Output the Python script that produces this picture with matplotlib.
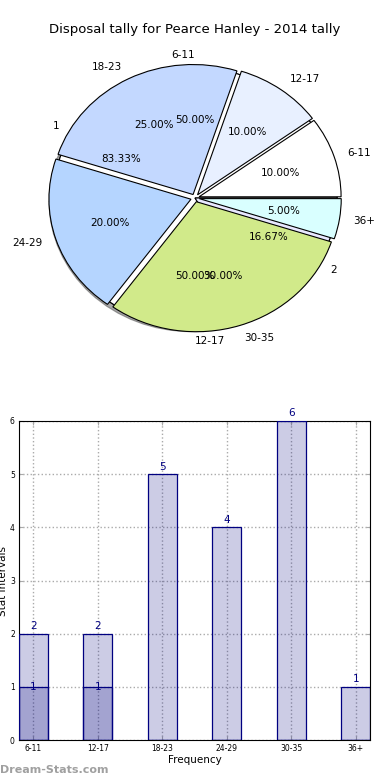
import numpy as np
import matplotlib
matplotlib.use('Agg')
import matplotlib.pyplot as plt

# data
age_groups = ['6-11', '12-17', '18-23', '24-29', '30-35', '36+']
age_share = [10, 10, 25, 20, 30, 5]
age_colors = ['#ffffff', '#e8f0ff', '#c3d8ff', '#b5d5ff', '#d1ea8a', '#d9ffff']

grp_labels = ['1', '2']
grp_share = [83.33, 16.67]

half_labels = ['6-11', '12-17']
half_share = [50, 50]

bar_cats = ['6-11', '12-17', '18-23', '24-29', '30-35', '36+']
bar_main = [2, 2, 5, 4, 6, 1]
bar_extra = [1, 1, 0, 0, 0, 0]

fig = plt.figure(figsize=(3.9, 7.8), dpi=100)
fig.text(0.5, 1 - 30 / 780, 'Disposal tally for Pearce Hanley - 2014 tally',
         ha='center', va='center', fontsize=9.5)

# ---- pie ----
ax1 = fig.add_axes([0.0449, 0.5378, 0.9103, 0.4167])
ax1.pie(half_share, labels=half_labels, autopct='%1.2f%%', colors=['#ffffff', '#ffffff'],
        shadow=True, wedgeprops={'edgecolor': 'black', 'linewidth': 0.8},
        textprops={'fontsize': 7.5})
ax1.pie(grp_share, labels=grp_labels, autopct='%1.2f%%', colors=['#ffffff', '#e8e8ff'],
        wedgeprops={'edgecolor': 'black', 'linewidth': 0.8},
        textprops={'fontsize': 7.5})
ax1.pie(age_share, labels=age_groups, autopct='%1.2f%%', colors=age_colors,
        explode=[0.03] * 6,
        wedgeprops={'edgecolor': 'black', 'linewidth': 0.8},
        textprops={'fontsize': 7.5})
ax1.set_aspect('auto')
ax1.set_xlim(-1.25, 1.25)
ax1.set_ylim(-1.25, 1.25)
ax1.axis('off')

# ---- bars ----
ax2 = fig.add_axes([19 / 390, 40 / 780, 351 / 390, 319 / 780])
x = np.arange(len(bar_cats))
w = 0.445
face = (0, 0, 0.5, 0.2)
b1 = ax2.bar(x, bar_main, w, color=face, edgecolor='navy', linewidth=0.9, zorder=3)
b2 = ax2.bar(x, bar_extra, w, color=face, edgecolor='navy', linewidth=0.9, zorder=3)
for xi, v in zip(x, bar_main):
    ax2.text(xi, v + 0.05, str(v), ha='center', va='bottom', color='navy', fontsize=7.5)
for xi, v in zip(x, bar_extra):
    if v:
        ax2.text(xi, v - 0.1, str(v), ha='center', va='bottom', color='navy', fontsize=7.5)

ax2.set_xlim(-w / 2, len(bar_cats) - 1 + w / 2)
ax2.set_ylim(0, 6)
ax2.set_xticks(x)
ax2.set_xticklabels(bar_cats)
ax2.set_yticks(range(7))
ax2.tick_params(labelsize=5.5, direction='in', color='#aaaaaa', length=3,
                top=True, right=True, pad=3)
ax2.grid(True, linestyle=':', color='#aaaaaa', linewidth=1, zorder=0)
ax2.set_xlabel('Frequency', fontsize=7.5, labelpad=1)
ax2.set_ylabel('Stat Intervals', fontsize=7.5)
ax2.yaxis.set_label_coords(-0.03, 0.5)

fig.text(0.0, 5 / 780, 'Dream-Stats.com', color='#a0a0a0', fontsize=8,
         fontweight='bold', ha='left', va='bottom')

fig.savefig('out.png', dpi=100)
